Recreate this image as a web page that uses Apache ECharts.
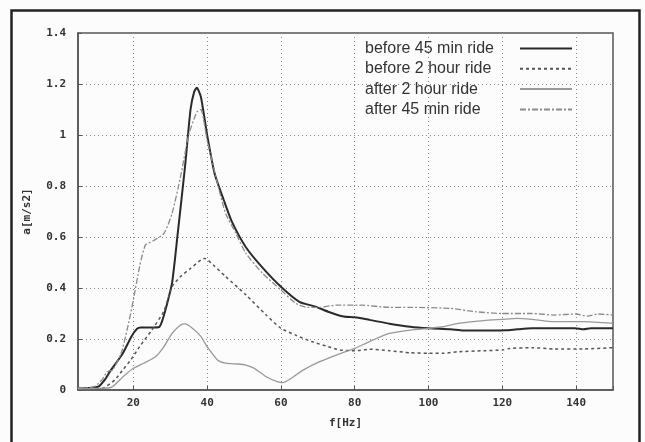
<!DOCTYPE html>
<html>
<head>
<meta charset="utf-8">
<script src="https://cdn.jsdelivr.net/npm/echarts@6/dist/echarts.min.js"></script>
<style>
html,body{margin:0;padding:0;background:#fcfcfc;}
#c{width:645px;height:442px;}
</style>
</head>
<body>
<div id="c"></div>
<script>
// Series names
const seriesNames = ['before 45 min ride', 'before 2 hour ride', 'after 2 hour ride', 'after 45 min ride'];
// x tick labels shown
const xTickLabels = [20, 40, 60, 80, 100, 120, 140];

// [f (Hz), a (m/s2)] pairs
const before45 = [[5,0.007],[8,0.008],[10.5,0.013],[12.5,0.045],[14,0.08],[17,0.14],[19.5,0.21],[21,0.24],[22,0.245],[25,0.245],[27,0.247],[27.8,0.27],[29,0.33],[30.5,0.42],[32,0.61],[34,0.875],[35.5,1.1],[36.5,1.17],[37.2,1.185],[38.3,1.15],[40,1.0],[42,0.85],[44.5,0.745],[46.7,0.66],[50.5,0.56],[55,0.48],[60,0.405],[65,0.346],[69.4,0.327],[72.8,0.307],[77,0.288],[80,0.285],[84,0.275],[89.4,0.26],[95,0.248],[100,0.242],[106,0.238],[109.4,0.233],[117,0.233],[121,0.234],[124,0.238],[128,0.242],[139.7,0.242],[142,0.238],[144,0.242],[150,0.242]];
const before2h = [[5,0.003],[8,0.004],[11.7,0.007],[15,0.04],[17.2,0.08],[19.4,0.12],[21.7,0.17],[25,0.235],[28.3,0.31],[30.5,0.405],[32.8,0.445],[35.5,0.477],[38.3,0.51],[39.4,0.516],[41.7,0.49],[45,0.445],[50.5,0.373],[56,0.294],[60,0.242],[64,0.215],[68.3,0.19],[72.8,0.17],[76,0.157],[80,0.154],[84,0.16],[89.4,0.154],[95,0.146],[100,0.144],[104,0.144],[108,0.15],[115,0.154],[120,0.157],[122,0.163],[128,0.166],[134,0.161],[142,0.161],[150,0.166]];
const after2h = [[5,0.005],[10,0.006],[14,0.01],[17.2,0.052],[20,0.085],[22.8,0.105],[26,0.13],[28.3,0.17],[30.5,0.222],[32.8,0.255],[34,0.259],[36,0.242],[38.3,0.21],[40,0.17],[42.8,0.118],[45,0.105],[48.3,0.102],[50.5,0.098],[52.8,0.085],[56,0.052],[59,0.033],[60.5,0.029],[62.8,0.046],[66,0.078],[70.5,0.111],[75,0.137],[80,0.163],[84,0.19],[89.4,0.222],[95,0.235],[100,0.242],[104,0.248],[108,0.261],[115,0.272],[120,0.277],[124,0.281],[128,0.277],[134,0.268],[142,0.268],[150,0.261]];
const after45 = [[5,0.01],[7,0.008],[9.4,0.013],[11.5,0.04],[12.8,0.07],[13.5,0.075],[14.4,0.078],[16.7,0.144],[18.3,0.235],[20,0.353],[21.7,0.484],[23.3,0.569],[25.5,0.586],[28.3,0.614],[30.5,0.693],[32.8,0.837],[35,1.0],[37.2,1.09],[38.3,1.1],[40,0.98],[42.8,0.81],[45,0.693],[47.8,0.614],[50.5,0.536],[55,0.458],[60,0.392],[64,0.34],[67.2,0.324],[70.5,0.324],[75,0.333],[81.7,0.333],[89.4,0.324],[95,0.324],[106,0.32],[112.8,0.307],[120,0.30],[128,0.30],[134,0.294],[140,0.298],[143,0.29],[146,0.298],[150,0.294]];

const chart = echarts.init(document.getElementById('c'), null, {renderer: 'canvas'});
const monoFont = '"DejaVu Sans Mono", monospace';
const sansFont = '"Liberation Sans", Arial, sans-serif';
const axisCommon = {
  axisLine: {show: true, lineStyle: {color: '#555', width: 1.5}},
  axisTick: {show: true, inside: true, length: 4, lineStyle: {color: '#555'}},
  splitLine: {show: true, lineStyle: {color: '#888', type: [1, 3], width: 1}}
};
const option = {
  backgroundColor: '#fcfcfc',
  animation: false,
  graphic: [{
    type: 'rect', left: 9, top: 8, silent: true,
    shape: {width: 628, height: 445},
    style: {fill: 'none', stroke: '#222', lineWidth: 2.5}
  }],
  grid: {left: 78, right: 32, top: 33, bottom: 52, show: true, borderColor: '#555', borderWidth: 1.5, backgroundColor: 'transparent'},
  legend: {
    left: 365, top: 40, orient: 'vertical', align: 'right', padding: 0,
    itemWidth: 52, itemHeight: 14, itemGap: 3.3,
    itemStyle: {opacity: 0},
    formatter: name => '{a|' + name + '}',
    textStyle: {fontFamily: sansFont, fontSize: 16, color: '#333',
      rich: {a: {width: 150, height: 17, lineHeight: 17, align: 'left', fontFamily: sansFont, fontSize: 16, color: '#333'}}},
    data: seriesNames
  },
  xAxis: Object.assign({}, axisCommon, {
    type: 'value', min: 5, max: 150, splitNumber: 7,
    name: 'f[Hz]', nameLocation: 'middle', nameGap: 28,
    nameTextStyle: {fontFamily: monoFont, fontWeight: 'bold', fontSize: 11, color: '#333'},
    axisLabel: {
      margin: 8, fontFamily: monoFont, fontWeight: 'bold', fontSize: 11, color: '#333',
      formatter: v => xTickLabels.indexOf(v) >= 0 ? String(v) : ''
    }
  }),
  yAxis: Object.assign({}, axisCommon, {
    type: 'value', min: 0, max: 1.4, interval: 0.2,
    name: 'a[m/s2]', nameLocation: 'middle', nameGap: 45, nameRotate: 90,
    nameTextStyle: {fontFamily: monoFont, fontWeight: 'bold', fontSize: 11, color: '#333'},
    axisLabel: {margin: 12, fontFamily: monoFont, fontWeight: 'bold', fontSize: 11, color: '#333',
      formatter: v => String(Math.round(v * 10) / 10)}
  }),
  series: [
    {name: seriesNames[0], type: 'line', data: before45, symbol: 'none', smooth: 0.2,
     lineStyle: {color: '#2a2a2a', width: 2}, itemStyle: {color: '#2a2a2a'}},
    {name: seriesNames[1], type: 'line', data: before2h, symbol: 'none', smooth: 0.2,
     lineStyle: {color: '#555', width: 1.5, type: [3, 3]}, itemStyle: {color: '#555'}},
    {name: seriesNames[2], type: 'line', data: after2h, symbol: 'none', smooth: 0.2,
     lineStyle: {color: '#999', width: 1.3}, itemStyle: {color: '#999'}},
    {name: seriesNames[3], type: 'line', data: after45, symbol: 'none', smooth: 0.2,
     lineStyle: {color: '#8a8a8a', width: 1.3, type: [6, 2, 2, 2]}, itemStyle: {color: '#8a8a8a'}}
  ]
};
chart.setOption(option);
</script>
</body>
</html>
